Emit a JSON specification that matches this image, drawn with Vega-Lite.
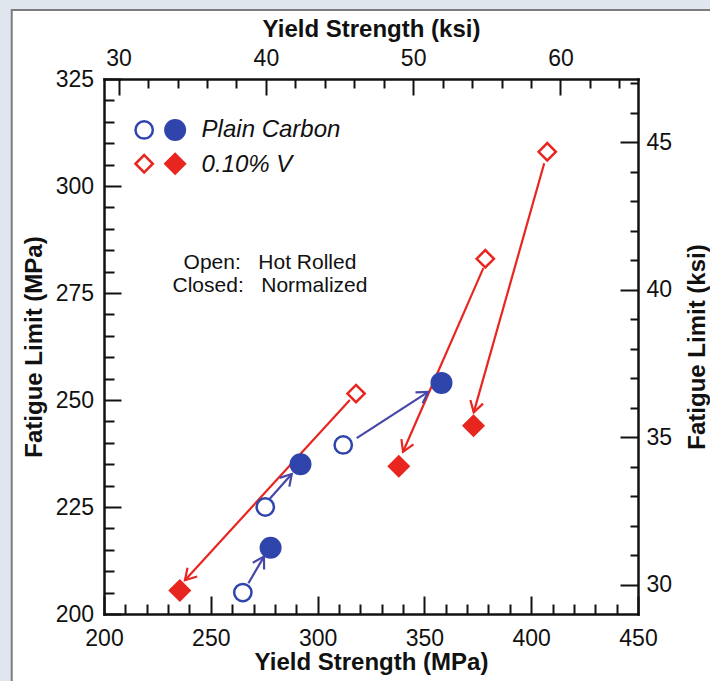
{
  "$schema": "https://vega.github.io/schema/vega-lite/v6.json",
  "width": 534,
  "height": 535,
  "autosize": {"type": "none"},
  "padding": {"left": 104, "top": 79, "right": 72, "bottom": 67},
  "background": "#dfe6ee",
  "config": {
    "view": {"stroke": null},
    "font": "Liberation Sans",
    "axis": {
      "grid": false, "zindex": 1,
      "tickColor": "#111111", "domainColor": "#111111", "labelColor": "#111111", "titleColor": "#111111",
      "labelFont": "Liberation Sans", "titleFont": "Liberation Sans",
      "labelFontSize": 23, "titleFontSize": 24, "titleFontWeight": "bold",
      "tickWidth": 2, "domainWidth": 2.5, "domainCap": "square",
      "labelFlush": false, "labelOverlap": false, "labelBound": false
    }
  },
  "datasets": {
    "steels": [
      {"series": "Plain Carbon", "treatment": "Hot Rolled", "yield_mpa": 265, "fatigue_mpa": 205},
      {"series": "Plain Carbon", "treatment": "Hot Rolled", "yield_mpa": 275.5, "fatigue_mpa": 225},
      {"series": "Plain Carbon", "treatment": "Hot Rolled", "yield_mpa": 312, "fatigue_mpa": 239.5},
      {"series": "Plain Carbon", "treatment": "Normalized", "yield_mpa": 278, "fatigue_mpa": 215.5},
      {"series": "Plain Carbon", "treatment": "Normalized", "yield_mpa": 292, "fatigue_mpa": 235},
      {"series": "Plain Carbon", "treatment": "Normalized", "yield_mpa": 358, "fatigue_mpa": 254},
      {"series": "0.10% V", "treatment": "Hot Rolled", "yield_mpa": 318, "fatigue_mpa": 251.5},
      {"series": "0.10% V", "treatment": "Hot Rolled", "yield_mpa": 378.5, "fatigue_mpa": 283},
      {"series": "0.10% V", "treatment": "Hot Rolled", "yield_mpa": 407.5, "fatigue_mpa": 308},
      {"series": "0.10% V", "treatment": "Normalized", "yield_mpa": 235.5, "fatigue_mpa": 205.5},
      {"series": "0.10% V", "treatment": "Normalized", "yield_mpa": 338, "fatigue_mpa": 234.5},
      {"series": "0.10% V", "treatment": "Normalized", "yield_mpa": 373, "fatigue_mpa": 244}
    ],
    "arrows": [
      {"series": "Plain Carbon", "start_yield": 267.6, "start_fatigue": 207.2, "end_yield": 274.9, "end_fatigue": 213.4},
      {"series": "Plain Carbon", "start_yield": 277.7, "start_fatigue": 227.0, "end_yield": 287.9, "end_fatigue": 232.7},
      {"series": "Plain Carbon", "start_yield": 318.3, "start_fatigue": 241.1, "end_yield": 351.8, "end_fatigue": 251.9},
      {"series": "0.10% V", "start_yield": 315.1, "start_fatigue": 250.0, "end_yield": 237.9, "end_fatigue": 207.9},
      {"series": "0.10% V", "start_yield": 377.6, "start_fatigue": 280.8, "end_yield": 340.0, "end_fatigue": 237.9},
      {"series": "0.10% V", "start_yield": 406.1, "start_fatigue": 305.3, "end_yield": 373.1, "end_fatigue": 247.1}
    ],
    "legendkeys": [
      {"series": "Plain Carbon", "treatment": "Hot Rolled", "kx": 218.8, "ky": 313.1},
      {"series": "Plain Carbon", "treatment": "Normalized", "kx": 233.3, "ky": 313.1},
      {"series": "0.10% V", "treatment": "Hot Rolled", "kx": 218.8, "ky": 305.2},
      {"series": "0.10% V", "treatment": "Normalized", "kx": 233.3, "ky": 305.2}
    ],
    "legendlabels": [
      {"label": "Plain Carbon", "kx": 245.7, "ky": 313.1},
      {"label": "0.10% V", "kx": 245.7, "ky": 305.0}
    ],
    "notes": [
      {"label": "Open:\u00a0\u00a0\u00a0Hot Rolled", "kx": 277.7, "ky": 282.1},
      {"label": "Closed:\u00a0\u00a0\u00a0Normalized", "kx": 277.7, "ky": 276.7}
    ]
  },
  "layer": [
    {
      "data": {"values": [{}]},
      "mark": {"type": "rect", "fill": "white", "stroke": "#7c7c7c", "strokeWidth": 2},
      "encoding": {
        "x": {"datum": 156.8, "type": "quantitative",
              "scale": {"domain": [200, 450], "nice": false, "zero": false},
              "axis": {"orient": "bottom", "zindex": 2, "values": [200, 250, 300, 350, 400, 450], "tickSize": -18, "labelPadding": 31,
                       "domain": true, "title": "Yield Strength (MPa)", "titlePadding": 0.5}},
        "x2": {"datum": 495},
        "y": {"datum": 341.1, "type": "quantitative",
              "scale": {"domain": [200, 325], "nice": false, "zero": false},
              "axis": {"orient": "left", "zindex": 2, "values": [200, 225, 250, 275, 300, 325], "tickSize": -17, "labelPadding": 27.5,
                       "domain": true, "title": "Fatigue Limit (MPa)", "titlePadding": 9}},
        "y2": {"datum": 170}
      }
    },
    {
      "data": {"name": "arrows"},
      "mark": {"type": "rule", "strokeWidth": 2.2},
      "encoding": {
        "x": {"field": "start_yield", "type": "quantitative",
              "scale": {"domain": [200, 450], "nice": false, "zero": false},
              "axis": {"orient": "bottom", "zindex": 2, "values": [210, 220, 230, 240, 260, 270, 280, 290, 310, 320, 330, 340, 360, 370, 380, 390, 410, 420, 430, 440],
                       "tickSize": -10, "labels": false, "domain": false, "title": null}},
        "x2": {"field": "end_yield"},
        "y": {"field": "start_fatigue", "type": "quantitative",
              "scale": {"domain": [200, 325], "nice": false, "zero": false},
              "axis": {"orient": "left", "zindex": 2, "values": [205, 210, 215, 220, 230, 235, 240, 245, 255, 260, 265, 270, 280, 285, 290, 295, 305, 310, 315, 320],
                       "tickSize": -10, "labels": false, "domain": false, "title": null}},
        "y2": {"field": "end_fatigue"},
        "color": {"field": "series", "type": "nominal",
                  "scale": {"domain": ["Plain Carbon", "0.10% V"], "range": ["#4747a8", "#e8261f"]}, "legend": null}
      }
    },
    {
      "data": {"name": "arrows"},
      "transform": [
        {"calculate": "atan2(-(datum.end_fatigue - datum.start_fatigue) * 535 / 125, (datum.end_yield - datum.start_yield) * 534 / 250) * 180 / PI", "as": "heading"}
      ],
      "mark": {"type": "point", "shape": "M-1,-0.6L0,0L-1,0.6", "filled": false, "strokeWidth": 2.2, "size": 480, "opacity": 1},
      "encoding": {
        "x": {"field": "end_yield", "type": "quantitative",
              "scale": {"domain": [200, 450], "nice": false, "zero": false},
              "axis": {"orient": "top", "zindex": 2, "values": [220.632, 234.422, 248.211, 262.001, 289.58, 303.369, 317.159, 330.948, 358.527, 372.317, 386.106, 399.896, 427.475, 441.264],
                       "tickSize": -9, "labels": false, "domain": false, "title": null}},
        "y": {"field": "end_fatigue", "type": "quantitative",
              "scale": {"domain": [200, 325], "nice": false, "zero": false},
              "axis": {"orient": "right", "zindex": 2, "values": [213.737, 220.632, 227.527, 234.422, 248.211, 255.106, 262.001, 268.895, 282.685, 289.58, 296.475, 303.369, 317.159, 324.054],
                       "tickSize": -8, "labels": false, "domain": false, "title": null}},
        "angle": {"field": "heading", "type": "quantitative", "scale": null},
        "color": {"field": "series", "type": "nominal",
                  "scale": {"domain": ["Plain Carbon", "0.10% V"], "range": ["#4747a8", "#e8261f"]}, "legend": null}
      }
    },
    {
      "data": {"name": "steels"},
      "mark": {"type": "point", "strokeWidth": 2.5, "opacity": 1},
      "encoding": {
        "x": {"field": "yield_mpa", "type": "quantitative",
              "scale": {"domain": [200, 450], "nice": false, "zero": false},
              "axis": {"orient": "top", "zindex": 2, "values": [206.843, 275.79, 344.738, 413.685], "labelExpr": "format(datum.value / 6.894757, '.0f')",
                       "tickSize": -16, "labelPadding": 25, "domain": true, "title": "Yield Strength (ksi)", "titlePadding": 6}},
        "y": {"field": "fatigue_mpa", "type": "quantitative",
              "scale": {"domain": [200, 325], "nice": false, "zero": false},
              "axis": {"orient": "right", "zindex": 2, "values": [206.843, 241.316, 275.79, 310.264], "labelExpr": "format(datum.value / 6.894757, '.0f')",
                       "tickSize": -18, "labelPadding": 26, "domain": true, "title": "Fatigue Limit (ksi)",
                       "titleAngle": 270, "titleBaseline": "top", "titlePadding": 14}},
        "shape": {"field": "series", "type": "nominal",
                  "scale": {"domain": ["Plain Carbon", "0.10% V"], "range": ["circle", "diamond"]}, "legend": null},
        "stroke": {"field": "series", "type": "nominal",
                   "scale": {"domain": ["Plain Carbon", "0.10% V"], "range": ["#2f45ab", "#e8261f"]}, "legend": null},
        "fill": {"condition": {"test": "datum.treatment === 'Hot Rolled'", "value": "white"},
                 "field": "series", "type": "nominal",
                 "scale": {"domain": ["Plain Carbon", "0.10% V"], "range": ["#2f45ab", "#e8261f"]}, "legend": null},
        "size": {"condition": {"test": "datum.treatment === 'Hot Rolled'", "value": 300}, "value": 380}
      }
    },
    {
      "data": {"name": "legendkeys"},
      "mark": {"type": "point", "strokeWidth": 2.5, "opacity": 1},
      "encoding": {
        "x": {"field": "kx", "type": "quantitative", "scale": {"domain": [200, 450], "nice": false, "zero": false}, "axis": null},
        "y": {"field": "ky", "type": "quantitative", "scale": {"domain": [200, 325], "nice": false, "zero": false}, "axis": null},
        "shape": {"field": "series", "type": "nominal",
                  "scale": {"domain": ["Plain Carbon", "0.10% V"], "range": ["circle", "diamond"]}, "legend": null},
        "stroke": {"field": "series", "type": "nominal",
                   "scale": {"domain": ["Plain Carbon", "0.10% V"], "range": ["#2f45ab", "#e8261f"]}, "legend": null},
        "fill": {"condition": {"test": "datum.treatment === 'Hot Rolled'", "value": "white"},
                 "field": "series", "type": "nominal",
                 "scale": {"domain": ["Plain Carbon", "0.10% V"], "range": ["#2f45ab", "#e8261f"]}, "legend": null},
        "size": {"condition": {"test": "datum.treatment === 'Hot Rolled'", "value": 300}, "value": 380}
      }
    },
    {
      "data": {"name": "legendlabels"},
      "mark": {"type": "text", "align": "left", "baseline": "middle", "fontSize": 24, "fontStyle": "italic", "color": "#111111", "font": "Liberation Sans"},
      "encoding": {
        "x": {"field": "kx", "type": "quantitative", "scale": {"domain": [200, 450], "nice": false, "zero": false}, "axis": null},
        "y": {"field": "ky", "type": "quantitative", "scale": {"domain": [200, 325], "nice": false, "zero": false}, "axis": null},
        "text": {"field": "label"}
      }
    },
    {
      "data": {"name": "notes"},
      "mark": {"type": "text", "align": "center", "baseline": "middle", "fontSize": 21, "color": "#111111", "font": "Liberation Sans"},
      "encoding": {
        "x": {"field": "kx", "type": "quantitative", "scale": {"domain": [200, 450], "nice": false, "zero": false}, "axis": null},
        "y": {"field": "ky", "type": "quantitative", "scale": {"domain": [200, 325], "nice": false, "zero": false}, "axis": null},
        "text": {"field": "label"}
      }
    }
  ],
  "resolve": {"axis": {"x": "independent", "y": "independent"}}
}
